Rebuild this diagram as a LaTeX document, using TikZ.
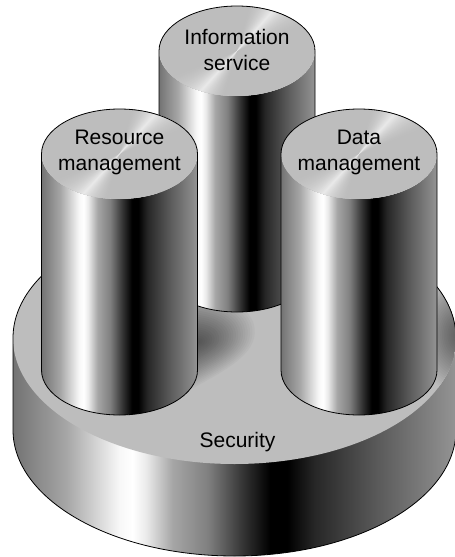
\documentclass[tikz,border=0pt]{standalone}
\usepackage{fontspec}
\setmainfont{Liberation Sans}
\usetikzlibrary{calc}
% metal look, the path box spans 25bp to 75bp
\pgfdeclarehorizontalshading{metalside}{100bp}{
color(0bp)=(black!55);color(25bp)=(black!55);color(31bp)=(black!35);color(37bp)=(black!3);color(38.5bp)=(white);
color(40bp)=(black!8);color(43bp)=(black!35);color(47bp)=(black!50);color(51bp)=(black!80);color(54bp)=(black);
color(56bp)=(black);color(59bp)=(black!85);color(66bp)=(black!65);color(75bp)=(black!42);color(100bp)=(black!42)}
\tikzset{
  outline/.style={draw=black,line width=0.8pt},
  toplabel/.style={align=center,font=\fontsize{21}{26}\selectfont,inner sep=0pt},
}
\definecolor{topgray}{gray}{0.74}
% one disc with its light wedges
\newcommand{\metaltop}[2]{
\begin{scope}
\clip (#1,#2) ellipse [x radius=78,y radius=45];
\fill[topgray] (#1,#2) ellipse [x radius=78,y radius=45];
\foreach \a in {30,29,...,0}{
  \pgfmathsetmacro{\mixval}{70*(1-\a/31)*(1-\a/31)}
  \fill[white!\mixval!topgray] (#1,#2) -- ([shift={(-48-\a:100)}]#1,#2) -- ([shift={(-48+\a:100)}]#1,#2) -- cycle;
  \fill[white!\mixval!topgray] (#1,#2) -- ([shift={(132-\a:100)}]#1,#2) -- ([shift={(132+\a:100)}]#1,#2) -- cycle;
}
\end{scope}
}
\newcommand{\metalcyl}[3]{
\shade[shading=metalside] (#1-78,#2) -- (#1-78,#3) arc [start angle=180,end angle=0,x radius=78,y radius=45] -- (#1+78,#2) arc [start angle=0,end angle=180,x radius=78,y radius=45] -- cycle;
\metaltop{#1}{#2}
\draw[outline] (#1+78,#2) arc [start angle=0,end angle=-180,x radius=78,y radius=45] -- (#1-78,#3) arc [start angle=180,end angle=0,x radius=78,y radius=45] -- cycle;
}
\begin{document}
\begin{tikzpicture}[x=1pt,y=-1pt]
\useasboundingbox (0,0) rectangle (455,557);
\clip (0,0) rectangle (455,557);
% base
\shade[shading=metalside] (13,338) -- (13,430) arc [start angle=180,end angle=0,x radius=221.5,y radius=126] -- (456,338) -- cycle;
\fill[topgray] (234.5,338) ellipse [x radius=221.5,y radius=126];
% shadows on the base
\begin{scope}
\clip (234.5,338) ellipse [x radius=221.5,y radius=126];
\foreach \s in {1,0.96,...,0.03}{
  \pgfmathsetmacro{\mixval}{55*(1-\s^1.3)}
  \fill[black!\mixval!topgray,shift={(198,342)},scale=\s] (-5,48) .. controls (27,30) and (62,13) .. (59,-14) .. controls (57,-32) and (37,-47) .. (0,-52) .. controls (-50,-52) and (-50,48) .. cycle;
  \pgfmathsetmacro{\mixval}{50*(1-\s^1.3)}
  \fill[black!\mixval!topgray] (460,335) ellipse [x radius=45*\s,y radius=60*\s];
}
\end{scope}
\draw[outline] (456,338) arc [start angle=0,end angle=-180,x radius=221.5,y radius=126] -- (13,430) arc [start angle=180,end angle=0,x radius=221.5,y radius=126] -- cycle;
% cylinders
\metalcyl{237}{51}{267}
\metalcyl{119.5}{154}{370}
\metalcyl{359}{154}{370}
\node[toplabel] (info) at (237,50) {Information\\service};
\node[toplabel] (res) at (119.5,152) {Resource\\management};
\node[toplabel] (dat) at (359,152) {Data\\management};
\node[toplabel] (sec) at (237.5,442) {Security};
\end{tikzpicture}
\end{document}
